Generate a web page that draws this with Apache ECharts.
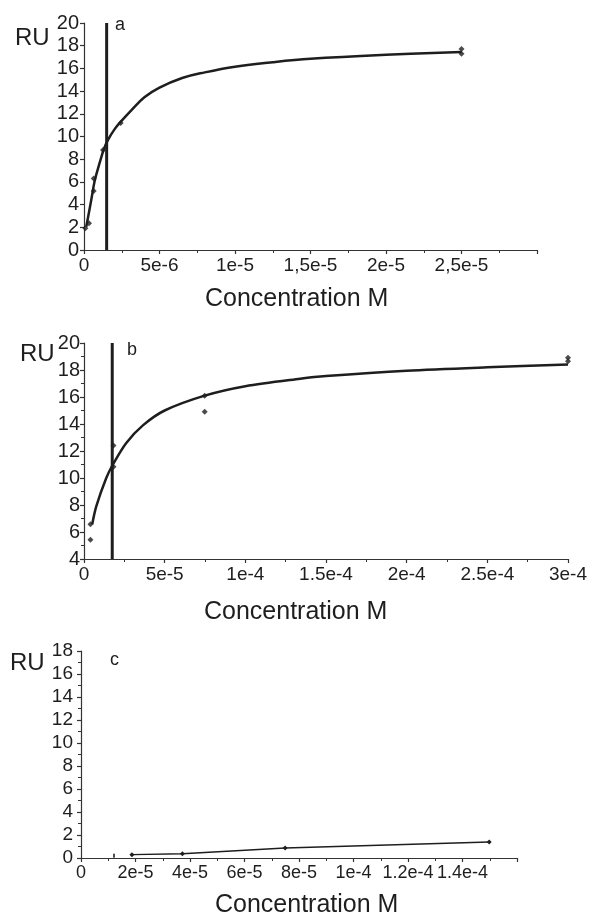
<!DOCTYPE html>
<html>
<head>
<meta charset="utf-8">
<script src="https://cdn.jsdelivr.net/npm/echarts@6/dist/echarts.min.js"></script>
<style>
html,body{margin:0;padding:0;background:#fff;}
#chart{width:601px;height:918px;}
</style>
</head>
<body>
<div id="chart"></div>
<script>
// ---------- Panel a ----------
const aPointsX = [0.09e-6, 0.33e-6, 0.64e-6, 0.64e-6, 1.26e-6, 2.43e-6, 25.0e-6, 25.0e-6];
const aPointsY = [1.91, 2.35, 5.2, 6.3, 8.8, 11.2, 17.7, 17.3];
const aCurveX = [0.15e-6, 0.48e-6, 0.71e-6, 1.04e-6, 1.32e-6, 1.59e-6, 2.03e-6, 2.47e-6, 3.13e-6, 4.0e-6, 5.0e-6, 6.5e-6, 8.0e-6, 10.0e-6, 12.5e-6, 15.0e-6, 20.0e-6, 25.0e-6];
const aCurveY = [2.05, 4.4, 6.1, 7.7, 8.9, 9.7, 10.65, 11.35, 12.3, 13.45, 14.3, 15.15, 15.65, 16.15, 16.55, 16.85, 17.2, 17.45];
const aKd = 1.5e-6;
const aXLabels = ['0', '5e-6', '1e-5', '1,5e-5', '2e-5', '2,5e-5', ''];

// ---------- Panel b ----------
const bPointsX = [0.40e-5, 0.40e-5, 1.83e-5, 1.83e-5, 7.48e-5, 7.48e-5, 30.0e-5, 30.0e-5];
const bPointsY = [6.58, 5.43, 12.4, 10.84, 16.1, 14.9, 18.9, 18.65];
const bCurveX = [0.51e-5, 0.76e-5, 1.38e-5, 1.79e-5, 2.62e-5, 3.65e-5, 5.0e-5, 7.48e-5, 10.0e-5, 13.4e-5, 15.0e-5, 20.0e-5, 25.0e-5, 30.0e-5];
const bCurveY = [6.58, 7.9, 10.0, 11.0, 12.6, 13.9, 15.0, 16.1, 16.8, 17.35, 17.55, 17.95, 18.2, 18.4];
const bKd = 1.75e-5;
const bXLabels = ['0', '5e-5', '1e-4', '1.5e-4', '2e-4', '2.5e-4', '3e-4'];

// ---------- Panel c ----------
const cPointsX = [1.87e-5, 3.72e-5, 7.49e-5, 1.498e-4];
const cPointsY = [0.29, 0.37, 0.87, 1.39];
const cMarkX = [1.21e-5];
const cMarkY = [0.2];
const cXLabels = ['0', '2e-5', '4e-5', '6e-5', '8e-5', '1e-4', '1.2e-4', '1.4e-4', ''];

const FONT = "'Liberation Sans', Arial, sans-serif";
const INK = '#1e1e1e';

function pairs(xs, ys) { return xs.map((x, i) => [x, ys[i]]); }

function xAxisOf(gridIndex, max, interval, labels, fs) {
  return {
    gridIndex, type: 'value', min: 0, max, interval,
    axisLine: { show: true, lineStyle: { color: '#333', width: 1.2 } },
    axisTick: { show: true, length: 4, lineStyle: { color: '#333', width: 1.2 } },
    minorTick: { show: true, splitNumber: 2, length: 3, lineStyle: { color: '#333', width: 1 } },
    splitLine: { show: false },
    axisLabel: {
      margin: 6, fontSize: fs, color: INK, fontFamily: FONT,
      formatter: (v, i) => labels[i] !== undefined ? labels[i] : ''
    }
  };
}
function yAxisOf(gridIndex, min, max, minor, margin, fs) {
  return {
    gridIndex, type: 'value', min, max, interval: 2,
    axisLine: { show: true, lineStyle: { color: '#333', width: 1.2 } },
    axisTick: { show: true, length: 4, lineStyle: { color: '#333', width: 1.2 } },
    minorTick: { show: minor, splitNumber: 2, length: 3, lineStyle: { color: '#333', width: 1 } },
    splitLine: { show: false },
    axisLabel: { margin, fontSize: fs, color: INK, fontFamily: FONT }
  };
}

const chart = echarts.init(document.getElementById('chart'), null, { renderer: 'canvas' });

function label(text, left, top, size) {
  return { type: 'text', left, top, style: { text, fontSize: size, fontFamily: FONT, fill: INK } };
}

chart.setOption({
  animation: false,
  backgroundColor: '#fff',
  grid: [
    { left: 84, top: 23, width: 453, height: 227 },
    { left: 84, top: 343, width: 484, height: 216 },
    { left: 81, top: 651, width: 436, height: 207 }
  ],
  xAxis: [
    xAxisOf(0, 3e-5, 5e-6, aXLabels, 19),
    xAxisOf(1, 3e-4, 5e-5, bXLabels, 19),
    xAxisOf(2, 1.6e-4, 2e-5, cXLabels, 18)
  ],
  yAxis: [
    yAxisOf(0, 0, 20, false, 5, 20),
    yAxisOf(1, 4, 20, true, 4, 20),
    yAxisOf(2, 0, 18, true, 8, 19)
  ],
  graphic: [
    label('RU', 15, 26, 24),
    label('RU', 20, 342, 24),
    label('RU', 10, 651, 24),
    label('a', 115, 16, 18),
    label('b', 127, 341, 18),
    label('c', 110, 651, 18),
    label('Concentration M', 205, 287, 25),
    label('Concentration M', 204, 600, 25),
    label('Concentration M', 215, 893, 25)
  ],
  series: [
    // panel a
    { type: 'line', xAxisIndex: 0, yAxisIndex: 0, data: pairs(aCurveX, aCurveY), smooth: 0.4,
      showSymbol: false, lineStyle: { color: INK, width: 2.5 }, z: 3 },
    { type: 'line', xAxisIndex: 0, yAxisIndex: 0, data: [[aKd, 0], [aKd, 20]], showSymbol: false,
      lineStyle: { color: INK, width: 3 }, z: 3 },
    { type: 'scatter', xAxisIndex: 0, yAxisIndex: 0, data: pairs(aPointsX, aPointsY), symbol: 'diamond', symbolSize: 6,
      itemStyle: { color: INK }, z: 4 },
    // panel b
    { type: 'line', xAxisIndex: 1, yAxisIndex: 1, data: pairs(bCurveX, bCurveY), smooth: 0.3,
      showSymbol: false, lineStyle: { color: INK, width: 2.5 }, z: 3 },
    { type: 'line', xAxisIndex: 1, yAxisIndex: 1, data: [[bKd, 4], [bKd, 20]], showSymbol: false,
      lineStyle: { color: INK, width: 3 }, z: 3 },
    { type: 'scatter', xAxisIndex: 1, yAxisIndex: 1, data: pairs(bPointsX, bPointsY), symbol: 'diamond', symbolSize: 6,
      itemStyle: { color: INK }, z: 4 },
    // panel c
    { type: 'line', xAxisIndex: 2, yAxisIndex: 2, data: pairs(cPointsX, cPointsY), symbol: 'diamond', symbolSize: 5,
      showSymbol: true, itemStyle: { color: INK }, lineStyle: { color: INK, width: 1.3 }, z: 3 },
    { type: 'scatter', xAxisIndex: 2, yAxisIndex: 2, data: pairs(cMarkX, cMarkY), symbol: 'rect', symbolSize: [2, 4],
      itemStyle: { color: INK }, z: 4 }
  ]
});
</script>
</body>
</html>
